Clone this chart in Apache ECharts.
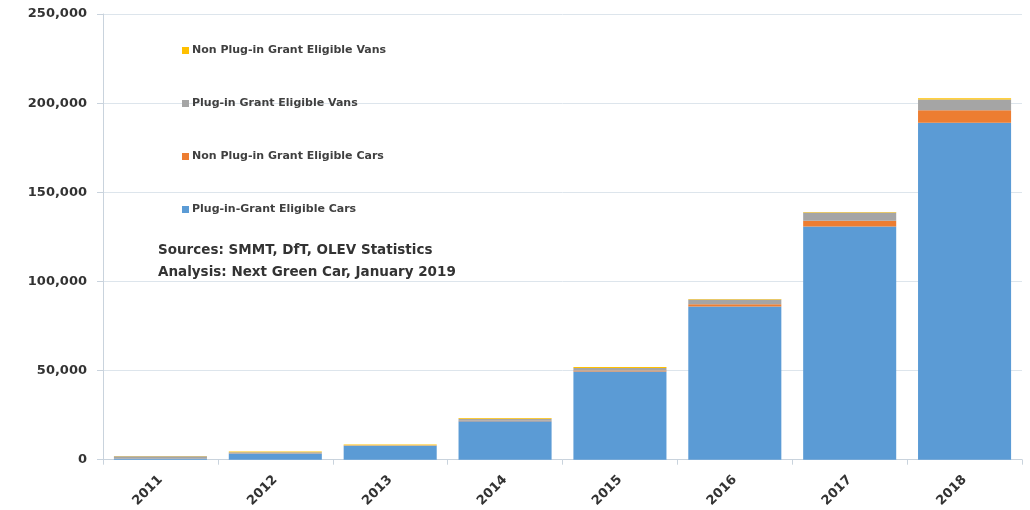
<!DOCTYPE html>
<html>
<head>
<meta charset="utf-8">
<script src="https://cdn.jsdelivr.net/npm/echarts@6/dist/echarts.min.js"></script>
<style>
  html, body { margin: 0; padding: 0; background: #fff; }
  #chart { width: 1030px; height: 510px; }
</style>
</head>
<body>
<div id="chart"></div>
<script>
  const years = ['2011', '2012', '2013', '2014', '2015', '2016', '2017', '2018'];
  const plugInCars = [600, 3500, 7800, 21500, 49500, 86000, 130800, 189000];
  const nonPlugInCars = [0, 100, 100, 300, 500, 1200, 3300, 7000];
  const plugInVans = [1300, 600, 200, 1200, 1500, 2600, 4500, 6000];
  const nonPlugInVans = [200, 400, 400, 400, 500, 300, 400, 800];
  const yTicks = [0, 50000, 100000, 150000, 200000, 250000];

  const chart = echarts.init(document.getElementById('chart'));
  const font = 'DejaVu Sans';

  function bar(name, data, color) {
    return { name, type: 'bar', stack: 'total', data, itemStyle: { color }, barCategoryGap: '19%' };
  }

  chart.setOption({
    animation: false,
    grid: { left: 103, right: 8, top: 14, bottom: 50 },
    legend: {
      orient: 'vertical', left: 177, top: 40,
      itemWidth: 7, itemHeight: 7, itemGap: 42,
      icon: 'rect',
      textStyle: { fontFamily: font, fontSize: 11, fontWeight: 'bold', color: '#404040', padding: [0, 0, 0, -2] },
      data: ['Non Plug-in Grant Eligible Vans', 'Plug-in Grant Eligible Vans', 'Non Plug-in Grant Eligible Cars', 'Plug-in-Grant Eligible Cars']
    },
    graphic: [
      { type: 'text', left: 158, top: 243, style: { text: 'Sources: SMMT, DfT, OLEV Statistics', font: 'bold 13.5px "DejaVu Sans"', fill: '#333' } },
      { type: 'text', left: 158, top: 265, style: { text: 'Analysis: Next Green Car, January 2019', font: 'bold 13.5px "DejaVu Sans"', fill: '#333' } }
    ],
    xAxis: {
      type: 'category', data: years,
      axisLine: { lineStyle: { color: '#c9d3dd' } },
      axisTick: { show: true, length: 5, lineStyle: { color: '#c9d3dd' } },
      axisLabel: { rotate: 45, margin: 18, fontFamily: font, fontSize: 13, fontWeight: 'bold', color: '#333' }
    },
    yAxis: {
      type: 'value', min: yTicks[0], max: yTicks[yTicks.length - 1], interval: 50000,
      axisLine: { show: true, lineStyle: { color: '#c9d3dd' } },
      axisTick: { show: true, length: 6, lineStyle: { color: '#c9d3dd' } },
      splitLine: { lineStyle: { color: '#dde5ec' } },
      axisLabel: { margin: 16, fontFamily: font, fontSize: 13, fontWeight: 'bold', color: '#333',
        formatter: v => v.toLocaleString('en-US') }
    },
    series: [
      bar('Plug-in-Grant Eligible Cars', plugInCars, '#5b9bd5'),
      bar('Non Plug-in Grant Eligible Cars', nonPlugInCars, '#ed7d31'),
      bar('Plug-in Grant Eligible Vans', plugInVans, '#a5a5a5'),
      bar('Non Plug-in Grant Eligible Vans', nonPlugInVans, '#ffc000')
    ]
  });
</script>
</body>
</html>
